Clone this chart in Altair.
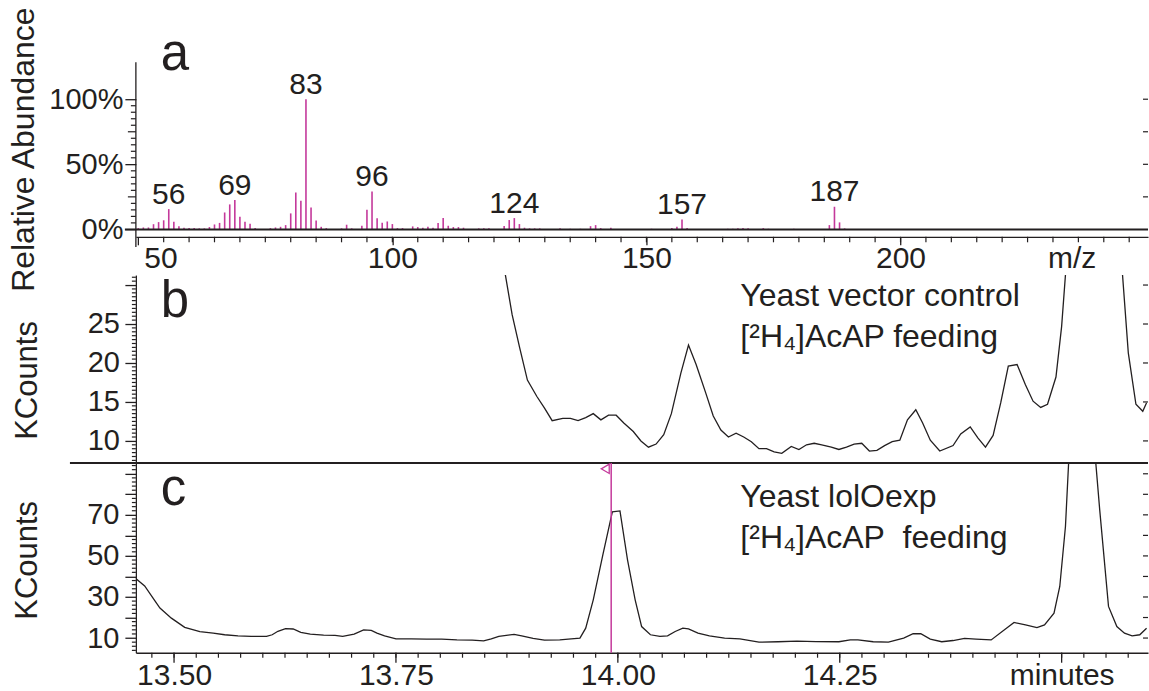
import altair as alt
import pandas as pd

# ---------------- data ----------------
mz_values = [50, 51, 52, 53, 54, 55, 56, 57, 58, 59, 60, 61, 62, 63, 64, 65, 66, 67, 68, 69,
             70, 71, 72, 73, 76, 77, 78, 79, 80, 81, 82, 83, 84, 85, 86, 87, 90, 91, 92, 94,
             95, 96, 97, 98, 99, 100, 101, 102, 104, 105, 106, 107, 108, 109, 110, 111, 112,
             113, 114, 117, 118, 119, 122, 123, 124, 125, 126, 127, 128, 129, 133, 135, 137,
             139, 140, 141, 143, 151, 155, 156, 157, 158, 166, 167, 168, 169, 170, 173, 174,
             179, 186, 187, 188, 189]
abundance = [1.0, 1.5, 1.5, 4.0, 5.6, 7.0, 15.6, 5.9, 2.5, 1.3, 1.0, 1.0, 0.8, 0.8, 1.8, 3.8,
             5.0, 13.0, 19.2, 22.5, 9.7, 5.9, 4.4, 1.0, 1.0, 1.5, 2.0, 3.3, 12.3, 28.4, 22.0,
             100.0, 16.9, 6.9, 2.0, 1.0, 0.8, 3.6, 0.8, 2.8, 15.1, 29.2, 8.5, 5.1, 6.1, 4.1,
             1.0, 1.0, 2.3, 1.8, 1.3, 2.0, 1.3, 4.9, 8.7, 2.8, 1.8, 1.8, 1.3, 0.8, 0.8, 0.8,
             2.6, 7.2, 8.7, 4.1, 1.3, 0.8, 0.8, 0.8, 0.8, 0.5, 0.5, 2.5, 3.3, 1.0, 1.3, 0.5,
             1.0, 2.0, 7.7, 1.0, 0.5, 0.5, 0.8, 1.0, 0.8, 1.0, 0.5, 0.5, 3.3, 17.4, 5.4, 0.8]
peak_labels = [56, 69, 83, 96, 124, 157, 187]

# (b) Yeast vector control chromatogram (minutes, KCounts)
time_b = [13.8700, 13.8809, 13.8895, 13.8981, 13.9088, 13.9174, 13.9260, 13.9380, 13.9466,
          13.9552, 13.9638, 13.9723, 13.9809, 13.9895, 13.9981, 14.0067, 14.0174, 14.0260,
          14.0345, 14.0431, 14.0517, 14.0603, 14.0710, 14.0796, 14.0882, 14.0989, 14.1075,
          14.1161, 14.1246, 14.1332, 14.1418, 14.1504, 14.1590, 14.1675, 14.1761, 14.1847,
          14.1954, 14.2040, 14.2126, 14.2212, 14.2297, 14.2405, 14.2490, 14.2576, 14.2662,
          14.2748, 14.2834, 14.2919, 14.3005, 14.3091, 14.3177, 14.3263, 14.3357, 14.3434,
          14.3520, 14.3627, 14.3777, 14.3863, 14.3970, 14.4056, 14.4142, 14.4228, 14.4314,
          14.4399, 14.4498, 14.4592, 14.4678, 14.4764, 14.4841, 14.4936, 14.5000, 14.5043,
          14.5150, 14.5365, 14.5600, 14.5686, 14.5751, 14.5837, 14.5914, 14.5957]
kcounts_b = [33.5, 26.2, 21.9, 17.8, 15.7, 14.2, 12.6, 12.9, 12.9,
             12.6, 13.0, 13.5, 12.7, 13.3, 13.3, 12.3, 11.2, 10.0,
             9.2, 9.6, 10.8, 13.5, 18.7, 22.3, 19.8, 16.2, 13.2,
             11.4, 10.5, 11.0, 10.5, 9.9, 9.0, 9.0, 8.6, 8.4,
             9.3, 8.9, 9.5, 9.7, 9.5, 9.2, 8.9, 9.2, 9.6,
             9.7, 8.7, 8.8, 9.4, 9.9, 10.1, 12.7, 14.0, 12.3,
             10.1, 8.7, 9.4, 10.9, 11.8, 10.4, 9.2, 10.7, 14.9,
             19.6, 19.8, 17.2, 15.1, 14.3, 14.7, 18.2, 24.7, 31.3,
             60.0, 70.0, 50.0, 31.3, 21.3, 14.7, 13.8, 14.9]

# (c) Yeast lolOexp chromatogram (minutes, KCounts)
time_c = [13.4562, 13.4669, 13.4777, 13.4841, 13.4970, 13.5120, 13.5291, 13.5441, 13.5570,
          13.5720, 13.5870, 13.6042, 13.6106, 13.6170, 13.6256, 13.6342, 13.6428, 13.6535,
          13.6685, 13.6814, 13.6900, 13.7029, 13.7136, 13.7222, 13.7286, 13.7372, 13.7501,
          13.7672, 13.7844, 13.8016, 13.8187, 13.8359, 13.8488, 13.8574, 13.8659, 13.8831,
          13.8917, 13.9045, 13.9174, 13.9346, 13.9474, 13.9573, 13.9638, 13.9723, 13.9831,
          13.9938, 14.0024, 14.0109, 14.0195, 14.0268, 14.0367, 14.0474, 14.0560, 14.0646,
          14.0732, 14.0796, 14.0903, 14.1032, 14.1203, 14.1375, 14.1590, 14.1804, 14.2019,
          14.2233, 14.2490, 14.2619, 14.2705, 14.2877, 14.3048, 14.3220, 14.3327, 14.3413,
          14.3520, 14.3649, 14.3777, 14.3906, 14.4035, 14.4206, 14.4378, 14.4464, 14.4593,
          14.4722, 14.4807, 14.4914, 14.4979, 14.5043, 14.5130, 14.5236, 14.5337, 14.5429,
          14.5528, 14.5622, 14.5708, 14.5794, 14.5880, 14.5957]
kcounts_c = [39.2, 35.4, 28.6, 24.6, 19.7, 15.2, 13.1, 12.4, 11.6,
             11.1, 10.8, 10.8, 11.6, 13.3, 14.6, 14.4, 12.8, 11.9,
             11.4, 11.3, 10.8, 11.9, 14.0, 13.7, 12.4, 11.1, 9.6,
             9.6, 9.5, 9.5, 9.1, 9.0, 8.6, 9.6, 10.8, 11.8,
             11.1, 9.8, 9.0, 9.1, 9.6, 10.0, 14.8, 28.6, 50.5,
             71.5, 71.9, 48.1, 28.6, 15.6, 11.6, 10.8, 11.1, 13.2,
             14.8, 14.5, 12.4, 11.1, 10.0, 9.6, 8.0, 8.2, 8.5,
             8.3, 8.2, 9.1, 9.1, 8.2, 8.0, 10.0, 12.1, 12.1,
             9.5, 8.2, 8.8, 9.8, 9.5, 9.1, 14.8, 17.6, 16.4,
             15.1, 16.4, 22.1, 35.1, 64.3, 140.0, 150.0, 120.0, 72.4,
             25.4, 15.6, 12.4, 11.1, 11.6, 14.8]

marker_time = [13.9925]      # magenta retention-time marker
marker_tri_time = [13.9858]  # triangle head of the marker
marker_tri_level = [92.4]

# extra tick marks (no labels)
a_x_minor = list(range(55, 250, 5))
a_y_mid = [25, 75]
a_y_minor = [5, 10, 15, 20, 30, 35, 40, 45, 55, 60, 65, 70, 80, 85, 90, 95]
a_y_right = [25, 50, 75, 100]
b_y_minor = [v / 2 for v in range(15, 63) if v % 10 != 0]
b_y_right = [10, 15, 20, 25, 30]
c_y_minor = [v for v in range(4, 95, 2) if v % 10 != 0]
c_y_right = [10, 20, 30, 40, 50, 60, 70, 80, 90]
c_x_major = [13.5, 13.75, 14.0, 14.25, 14.5]
c_x_minor = [round(13.475 + 0.025 * i, 3) for i in range(45)]

# ---------------- style ----------------
INK = "#231f20"
MAG = "#c4399b"
FONT = "Liberation Sans"
W = 1013
HA, HB, HC = 213, 188, 190
A_AXIS = 174.7

xa_scale = alt.Scale(domain=[49.53, 248.7], nice=False, zero=False)
ya_scale = alt.Scale(domain=[-35.07, 128.4], nice=False, zero=False)
t_scale = alt.Scale(domain=[13.457, 14.5973], nice=False, zero=False)
yb_scale = alt.Scale(domain=[7.18, 31.28], nice=False, zero=False)
yc_scale = alt.Scale(domain=[2.85, 95.3], nice=False, zero=False)

one = pd.DataFrame({"s": ["x"]})


def vals(v):
    return pd.DataFrame({"v": v})


def text_at(s, x, y, size, align="left"):
    return alt.Chart(pd.DataFrame({"s": [s]})).mark_text(
        fontSize=size, align=align, baseline="alphabetic", color=INK, font=FONT
    ).encode(x=alt.value(x), y=alt.value(y), text="s:N")


def yticks(values, scale, x0, x1):
    return alt.Chart(vals(values)).mark_rule(color=INK, strokeWidth=1.2).encode(
        x=alt.value(x0), x2=alt.value(x1), y=alt.Y("v:Q", scale=scale)
    )


def xticks(values, scale, y0, y1, width=1.2):
    return alt.Chart(vals(values)).mark_rule(color=INK, strokeWidth=width).encode(
        x=alt.X("v:Q", scale=scale), y=alt.value(y0), y2=alt.value(y1)
    )


# ---------------- panel a ----------------
spec = pd.DataFrame({"mz": mz_values, "ab": abundance})
spec["zero"] = 0.0
peaks = spec[spec["mz"].isin(peak_labels)].copy()
peaks["lab"] = peaks["mz"].astype(str)

bars = alt.Chart(spec).mark_rule(color=MAG, strokeWidth=1.6).encode(
    x=alt.X("mz:Q", scale=xa_scale,
            axis=alt.Axis(tickCount=4, offset=-(HA - A_AXIS), tickSize=8, labelPadding=-1,
                          labelFontSize=30, labelFlush=3, labelFlushOffset=-5.5, title=None,
                          labelOverlap=False)),
    y=alt.Y("ab:Q", scale=ya_scale,
            axis=alt.Axis(tickCount=3, labelExpr="datum.label + '%'", tickSize=11,
                          labelPadding=2, labelFontSize=29, domain=False, labelOverlap=False,
                          title="Relative Abundance", titleFontSize=32, titleX=-102.7,
                          titleY=87, titleBaseline="alphabetic")),
    y2="zero:Q",
)
peak_text = alt.Chart(peaks).mark_text(
    fontSize=30, baseline="alphabetic", dy=-5.5, color=INK, font=FONT
).encode(
    x=alt.X("mz:Q", scale=xa_scale),
    y=alt.Y("ab:Q", scale=ya_scale),
    text="lab:N",
)
zero_line = alt.Chart(vals([0.0])).mark_rule(color=INK, strokeWidth=2).encode(
    x=alt.value(-11), x2=alt.value(W), y=alt.Y("v:Q", scale=ya_scale)
)
a_yline = alt.Chart(pd.DataFrame({"v": [128.4], "v2": [-13.6]})).mark_rule(
    color=INK, strokeWidth=1.3
).encode(x=alt.value(0), y=alt.Y("v:Q", scale=ya_scale), y2="v2:Q")
anchor = alt.Chart(one).mark_rule(strokeOpacity=0, strokeWidth=0.01).encode(
    x=alt.value(-136), x2=alt.value(-136), y=alt.value(-62), y2=alt.value(-61)
)

panel_a = alt.layer(
    bars,
    zero_line,
    a_yline,
    yticks(a_y_minor, ya_scale, -5, 0),
    yticks(a_y_mid, ya_scale, -8, 0),
    yticks(a_y_right, ya_scale, W - 5, W),
    xticks(a_x_minor, xa_scale, A_AXIS, A_AXIS + 5.5),
    peak_text,
    text_at("a", 25, 8, 51),
    text_at("m/z", 937, 206, 30, align="center"),
    anchor,
).properties(width=W, height=HA)

# ---------------- panel b ----------------
dfb = pd.DataFrame({"t": time_b, "k": kcounts_b})
line_b = alt.Chart(dfb).mark_line(color=INK, strokeWidth=1.3, clip=True).encode(
    x=alt.X("t:Q", scale=t_scale, axis=None),
    y=alt.Y("k:Q", scale=yb_scale,
            axis=alt.Axis(tickCount=5, labelExpr="datum.value < 28 ? datum.label : ''",
                          tickSize=11, labelPadding=5.5, labelFontSize=29, labelOverlap=False,
                          title="KCounts", titleFontSize=31, titleX=-99.3, titleY=105,
                          titleBaseline="alphabetic")),
)
separator = alt.Chart(one).mark_rule(color=INK, strokeWidth=2).encode(
    x=alt.value(-66), x2=alt.value(W), y=alt.value(HB)
)
panel_b = alt.layer(
    line_b,
    yticks(b_y_minor, yb_scale, -4, 0),
    yticks(b_y_right, yb_scale, W - 5, W),
    separator,
    text_at("b", 25, 42, 51),
    text_at("Yeast vector control", 605, 31, 32),
    text_at("[²H₄]AcAP feeding", 605, 72, 32),
).properties(width=W, height=HB)

# ---------------- panel c ----------------
dfc = pd.DataFrame({"t": time_c, "k": kcounts_c})
quarter = "abs(datum.value * 4 - round(datum.value * 4)) < 0.001"
line_c = alt.Chart(dfc).mark_line(color=INK, strokeWidth=1.3, clip=True).encode(
    x=alt.X("t:Q", scale=t_scale,
            axis=alt.Axis(tickCount=23, ticks=False,
                          labelExpr=f"{quarter} ? (datum.value > 14.4 ? 'minutes' : format(datum.value, '.2f')) : ''",
                          labelPadding=8, labelFontSize=30, title=None, labelOverlap=False,
                          labelFlush=False)),
    y=alt.Y("k:Q", scale=yc_scale,
            axis=alt.Axis(tickCount=9,
                          labelExpr="(datum.value == 10 || datum.value == 30 || datum.value == 50 || datum.value == 70) ? datum.label : ''",
                          tickSize=11, labelPadding=6, labelFontSize=29, labelOverlap=False,
                          title="KCounts", titleFontSize=31, titleX=-99.3, titleY=97,
                          titleBaseline="alphabetic")),
)
marker = alt.Chart(pd.DataFrame({"t": marker_time})).mark_rule(color=MAG, strokeWidth=1.5).encode(
    x=alt.X("t:Q", scale=t_scale), y=alt.value(0), y2=alt.value(HC)
)
tri = alt.Chart(pd.DataFrame({"t": marker_tri_time, "k": marker_tri_level})).mark_point(
    shape="triangle-left", filled=False, color=MAG, size=85, strokeWidth=1.3, opacity=1
).encode(x=alt.X("t:Q", scale=t_scale), y=alt.Y("k:Q", scale=yc_scale))

panel_c = alt.layer(
    line_c,
    yticks(c_y_minor, yc_scale, -4, 0),
    yticks(c_y_right, yc_scale, W - 5, W),
    xticks(c_x_minor, t_scale, HC, HC + 5),
    xticks(c_x_major, t_scale, HC, HC + 10, width=1.3),
    marker,
    tri,
    text_at("c", 25, 42, 51),
    text_at("Yeast lolOexp", 605, 44, 32),
    text_at("[²H₄]AcAP\u00a0 feeding", 605, 85, 32),
).properties(width=W, height=HC)

chart = alt.vconcat(panel_a, panel_b, panel_c, spacing=0, bounds="flush").properties(
    padding=0, background="white"
).configure_view(stroke=None).configure_axis(
    labelFont=FONT, titleFont=FONT, labelColor=INK, titleColor=INK, domainColor=INK,
    tickColor=INK, domainWidth=1.3, tickWidth=1.3, titleFontWeight="normal", grid=False
)

chart.save("out.html", embed_options={"renderer": "svg", "actions": False})
